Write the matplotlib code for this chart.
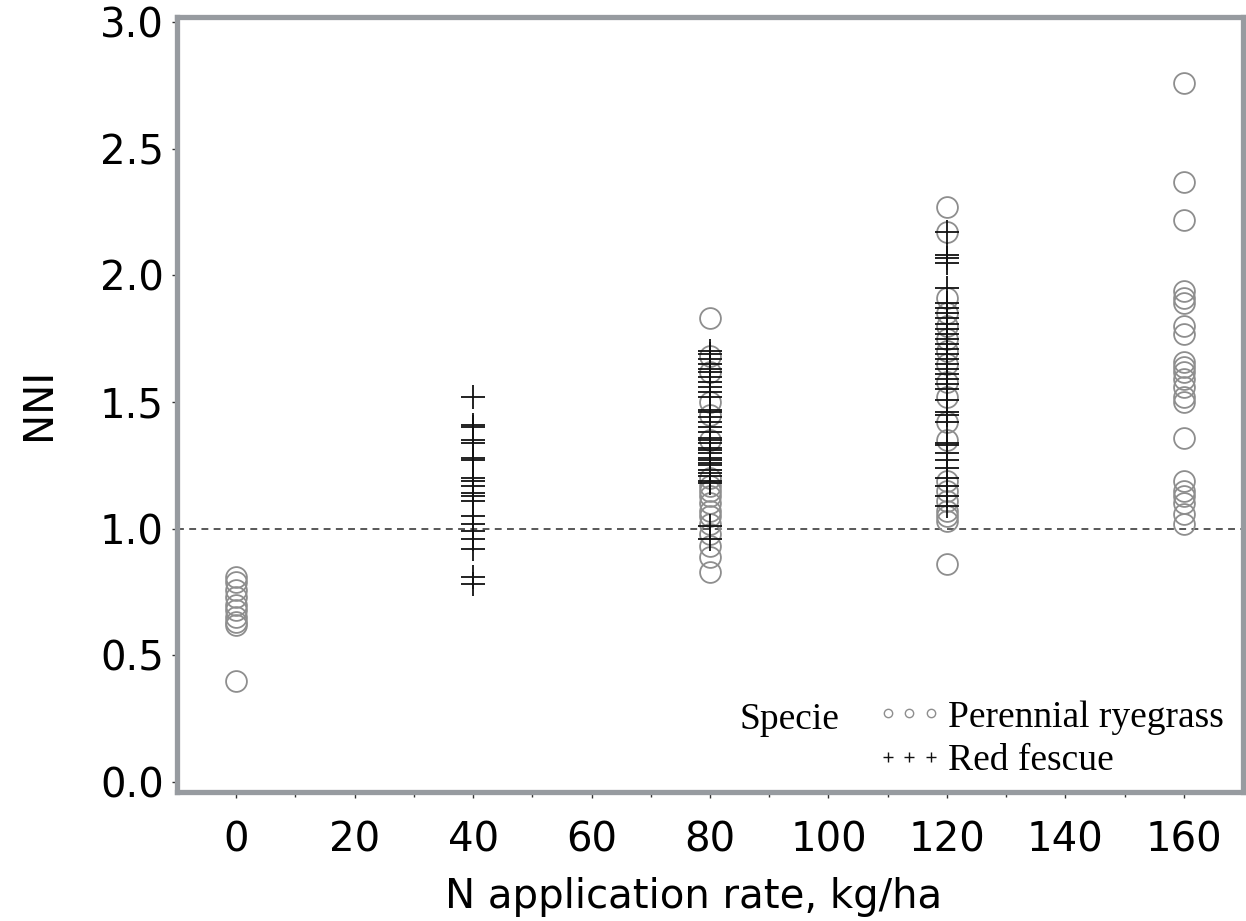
import matplotlib
matplotlib.use("Agg")
import matplotlib.pyplot as plt
from matplotlib.lines import Line2D

# ---------------- data ----------------
rye_x0 = [0.81, 0.79, 0.76, 0.73, 0.70, 0.68, 0.65, 0.63, 0.62, 0.40]
rye_x80 = [1.83, 1.68, 1.62, 1.50, 1.45, 1.35, 1.20, 1.17, 1.15, 1.13, 1.10,
           1.07, 1.05, 1.02, 0.98, 0.93, 0.89, 0.83]
rye_x120 = [2.27, 2.17, 1.91, 1.85, 1.80, 1.75, 1.70, 1.65, 1.58, 1.52, 1.42,
            1.35, 1.19, 1.15, 1.11, 1.07, 1.05, 1.03, 0.86]
rye_x160 = [2.76, 2.37, 2.22, 1.94, 1.91, 1.89, 1.80, 1.77, 1.66, 1.64, 1.62,
            1.59, 1.56, 1.52, 1.50, 1.36, 1.19, 1.15, 1.13, 1.10, 1.06, 1.02]

fes_x40 = [1.52, 1.41, 1.40, 1.35, 1.34, 1.28, 1.27, 1.20, 1.19, 1.17, 1.14,
           1.13, 1.11, 1.05, 1.02, 0.99, 0.96, 0.92, 0.81, 0.78]
fes_x80 = [1.70, 1.69, 1.67, 1.65, 1.63, 1.62, 1.60, 1.58, 1.56, 1.54, 1.52,
           1.47, 1.46, 1.44, 1.42, 1.40, 1.38, 1.36, 1.35, 1.34, 1.32, 1.31,
           1.30, 1.28, 1.27, 1.26, 1.25, 1.23, 1.22, 1.21, 1.19, 1.18, 1.01, 0.96]
fes_x120 = [2.17, 2.08, 2.07, 2.05, 1.95, 1.89, 1.87, 1.85, 1.83, 1.81, 1.79,
            1.77, 1.75, 1.73, 1.71, 1.69, 1.67, 1.65, 1.63, 1.61, 1.59, 1.57,
            1.55, 1.51, 1.46, 1.45, 1.42, 1.34, 1.33, 1.30, 1.27, 1.24, 1.20,
            1.17, 1.13, 1.09]

rye_rates = [0, 80, 120, 160]
rye_values = [rye_x0, rye_x80, rye_x120, rye_x160]
fes_rates = [40, 80, 120]
fes_values = [fes_x40, fes_x80, fes_x120]

x_ticks = [0, 20, 40, 60, 80, 100, 120, 140, 160]
y_ticks = [0.0, 0.5, 1.0, 1.5, 2.0, 2.5, 3.0]
species = ["Perennial ryegrass", "Red fescue"]

# ---------------- figure ----------------
plt.rcParams['font.family'] = ['DejaVu Sans']
fig = plt.figure(figsize=(12.46, 9.21), dpi=100)
ax = fig.add_axes([0.1421, 0.1404, 0.8555, 0.8411])

circ_col = "#8e8e8e"
for r, vals in zip(rye_rates, rye_values):
    ax.plot([r] * len(vals), vals, linestyle="none", marker="o",
            markersize=15, markerfacecolor="none", markeredgecolor=circ_col,
            markeredgewidth=1.3, zorder=3)
for r, vals in zip(fes_rates, fes_values):
    ax.plot([r] * len(vals), vals, linestyle="none", marker="+",
            markersize=17, color="#111111", markeredgewidth=1.3, zorder=4)

ax.axhline(1.0, color="#2a2a2a", linestyle=(0, (4.5, 3.5)), linewidth=1.1, zorder=2)

ax.set_xlim(-10, 170)
ax.set_ylim(-0.038, 3.02)
ax.set_xticks(x_ticks)
ax.set_xticks([10, 30, 50, 70, 90, 110, 130, 150], minor=True)
ax.set_yticks(y_ticks)
ax.set_yticklabels([f"{v:.1f}" for v in y_ticks])

for s in ax.spines.values():
    s.set_color("#979ba0")
    s.set_linewidth(3.8)

ax.tick_params(axis="x", which="major", length=4.5, width=1.0, color="#333333",
               labelsize=29, pad=16)
ax.tick_params(axis="x", which="minor", length=3.5, width=1.0, color="#333333")
ax.tick_params(axis="y", which="major", length=3.5, width=1.0, color="#333333",
               labelsize=29, pad=6)

ax.set_xlabel("N application rate, kg/ha", fontsize=29)
ax.xaxis.set_label_coords(0.485, -0.110)
ax.set_ylabel("NNI", fontsize=29)
ax.yaxis.set_label_coords(-0.111, 0.5)

# legend
handles = [
    Line2D([], [], linestyle="none", marker="o", markersize=6,
           markerfacecolor="none", markeredgecolor=circ_col, markeredgewidth=1.0),
    Line2D([], [], linestyle="none", marker="+", markersize=7,
           color="#111111", markeredgewidth=1.0),
]
leg = ax.legend(handles, species, numpoints=3, loc="lower right",
                bbox_to_anchor=(1.003, -0.012), frameon=False,
                prop={"family": "Liberation Serif", "size": 27},
                handlelength=1.75, handletextpad=0.15, labelspacing=0.25,
                borderaxespad=0.2)
ax.text(0.528, 0.093, "Specie", transform=ax.transAxes,
        fontfamily="Liberation Serif", fontsize=27, va="center", ha="left")

fig.savefig("out.png", dpi=100)
